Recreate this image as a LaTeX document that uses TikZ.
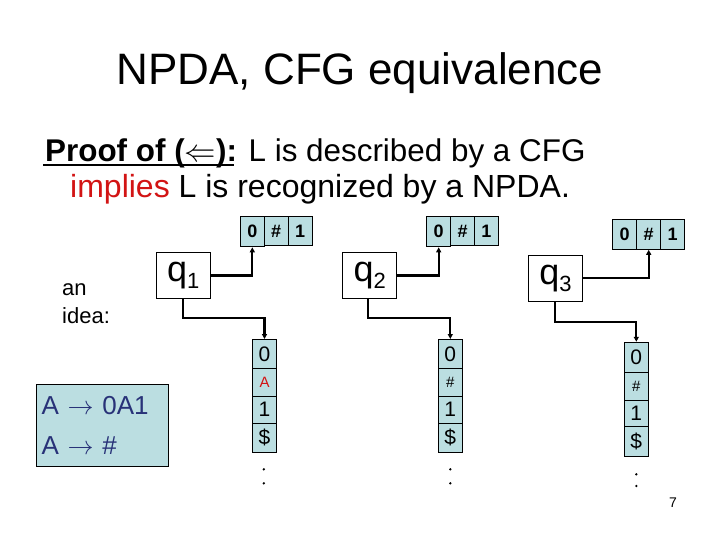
\RequirePackage{fix-cm}
\documentclass[tikz,border=0pt]{standalone}
\usepackage{fontspec}
\setmainfont{Liberation Sans}
\usetikzlibrary{arrows.meta}
\definecolor{cellblue}{RGB}{187,222,225}
\definecolor{gramblue}{RGB}{40,50,120}
\definecolor{impred}{RGB}{210,20,20}
\newcommand{\fs}[1]{\fontsize{#1}{#1}\selectfont}
\begin{document}
\begin{tikzpicture}[x=1pt,y=-1pt,
  cell/.style={draw, line width=1pt, fill=cellblue, inner sep=0pt, minimum width=24pt, minimum height=28pt, font=\fs{18}\bfseries},
  scell/.style={draw, line width=1pt, fill=cellblue, inner sep=0pt, minimum width=24.5pt, font=\fs{21}},
  state/.style={draw, line width=1pt, fill=white, inner sep=0pt, minimum width=54pt, minimum height=46pt, font=\fs{36}},
  conn/.style={line width=2.2pt, -{Triangle[length=5pt,width=5pt]}},
  small/.style={font=\fs{15}}]
\useasboundingbox (0,0) rectangle (720,540);
% title
\node[anchor=base, font=\fs{44}] (title) at (360,85) {NPDA, CFG equivalence};
\node[anchor=base west, font=\fs{31.4}, inner sep=0pt] (l1) at (45,162)
  {\textbf{Proof of (}$\Leftarrow$\textbf{):} L is described by a CFG};
\draw[line width=1.5pt] (43,165) -- (234,165);
\node[anchor=base west, font=\fs{32}, inner sep=0pt] (l2) at (70,197)
  {\textcolor{impred}{implies} L is recognized by a NPDA.};
% idea
\node[anchor=base west, align=left, font=\fontsize{22}{28}\selectfont, inner sep=0pt] (idea) at (62,323) {an\\idea:};
\node[draw, line width=1pt, fill=cellblue, minimum width=132pt, minimum height=82pt, inner xsep=5.5pt,
  text width=121pt, align=left, text=gramblue, font=\fontsize{26}{40}\selectfont] (gram) at (102.2,425)
  {\mbox{A $\rightarrow$ 0A1}\\\mbox{A $\rightarrow$ \#}};
% states
\node[state] (q1) at (183.3,275.5) {q\raisebox{-7pt}{\fs{22}1}};
\node[state] (q2) at (369.7,275.5) {q\raisebox{-7pt}{\fs{22}2}};
\node[state] (q3) at (555.5,278.3) {q\raisebox{-7pt}{\fs{22}3}};
% tapes
\node[cell] (t1b) at (276.2,231) {\#};
\node[cell] (t1c) at (300.1,231) {1};
\node[cell, minimum height=30pt] (t1a) at (252.3,231.8) {0};
\node[cell] (t2b) at (462.5,231) {\#};
\node[cell] (t2c) at (486.3,231) {1};
\node[cell, minimum height=30pt] (t2a) at (438.7,231.8) {0};
\node[cell, minimum height=30pt] (t3a) at (624.7,234.3) {0};
\node[cell, minimum height=30pt] (t3b) at (648.7,234.3) {\#};
\node[cell, minimum height=30pt] (t3c) at (672.5,234.3) {1};
% stacks
\node[scell, minimum height=29pt] (s1a) at (264.5,354) {0};
\node[scell, minimum height=27.5pt, small, text=impred] (s1b) at (264.5,382.25) {A};
\node[scell, minimum height=27pt] (s1c) at (264.5,409.5) {1};
\node[scell, minimum height=29.5pt] (s1d) at (264.5,437.75) {\$};
\node[scell, minimum height=29pt] (s2a) at (450.3,354) {0};
\node[scell, minimum height=27.5pt, small] (s2b) at (450.3,382.25) {\#};
\node[scell, minimum height=27pt] (s2c) at (450.3,409.5) {1};
\node[scell, minimum height=29.5pt] (s2d) at (450.3,437.75) {\$};
\node[scell, minimum height=30.4pt] (s3a) at (636.3,357.5) {0};
\node[scell, minimum height=27.3pt, small] (s3b) at (636.3,386.35) {\#};
\node[scell, minimum height=26.3pt] (s3c) at (636.3,413.15) {1};
\node[scell, minimum height=30pt] (s3d) at (636.3,441.3) {\$};
% dots
\fill (263.8,469.3) circle (1.3) (263.8,483.3) circle (1.3);
\fill (450.3,469.3) circle (1.3) (450.3,483.3) circle (1.3);
\fill (636.3,474.3) circle (1.3) (636.3,486) circle (1.3);
% connectors
\coordinate (b1) at (183.3,318.3);
\coordinate (b2) at (368.3,318.3);
\coordinate (b3) at (555,322.3);
\draw[conn] (q1.east) -| (t1a.south);
\draw[conn] (q2.east) -| (t2a.south);
\draw[conn] (q3.east) -| (t3b.south);
\draw[conn] (q1.south) -- (b1) -| (s1a.north);
\draw[conn] (q2.south -| b2) -- (b2) -| (s2a.north);
\draw[conn] (q3.south -| b3) -- (b3) -| (s3a.north);
% page number
\node[font=\fs{14}] (pg) at (673,503) {7};
\end{tikzpicture}
\end{document}
